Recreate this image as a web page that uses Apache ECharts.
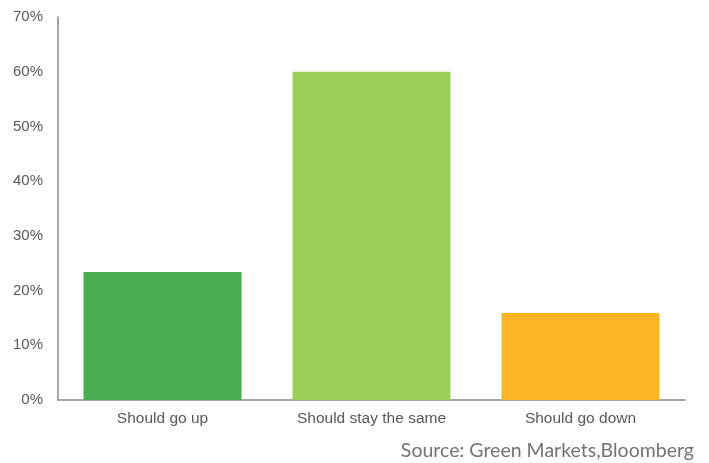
<!DOCTYPE html>
<html>
<head>
<meta charset="utf-8">
<script src="https://cdn.jsdelivr.net/npm/echarts@6/dist/echarts.min.js"></script>
<style>
  html, body { margin: 0; padding: 0; background: #fff; }
  #chart { width: 709px; height: 463px; }
</style>
</head>
<body>
<div id="chart"></div>
<script>
// Survey answers and their shares (%)
const categories = ['Should go up', 'Should stay the same', 'Should go down'];
const shares = [23.4, 60, 15.9];
const barColors = ['#4aab4f', '#9ecf5a', '#fbb524'];
const sourceText = 'Source: Green Markets,Bloomberg';

const chart = echarts.init(document.getElementById('chart'));
chart.setOption({
  animation: false,
  grid: { left: 58, right: 24, top: 17, bottom: 63 },
  xAxis: {
    type: 'category',
    data: categories,
    axisLine: { lineStyle: { color: '#8a8a8a', width: 1.5 } },
    axisTick: { show: false },
    axisLabel: { color: '#595959', fontSize: 15.5, fontFamily: 'Liberation Sans, Arial', margin: 11 }
  },
  yAxis: {
    type: 'value',
    min: 0, max: 70, interval: 10,
    axisLine: { show: true, lineStyle: { color: '#8a8a8a', width: 1.5 } },
    axisTick: { show: false },
    splitLine: { show: false },
    axisLabel: { color: '#595959', fontSize: 15, fontFamily: 'Liberation Sans, Arial', margin: 15, formatter: '{value}%' }
  },
  series: [{
    type: 'bar',
    data: shares.map((v, i) => ({ value: v, itemStyle: { color: barColors[i] } })),
    barCategoryGap: '24.4%'
  }],
  graphic: [{
    type: 'text',
    right: 15, top: 441,
    style: { text: sourceText, fill: '#737373', fontSize: 19.5, fontFamily: 'Lato', textAlign: 'right' }
  }]
});
</script>
</body>
</html>
